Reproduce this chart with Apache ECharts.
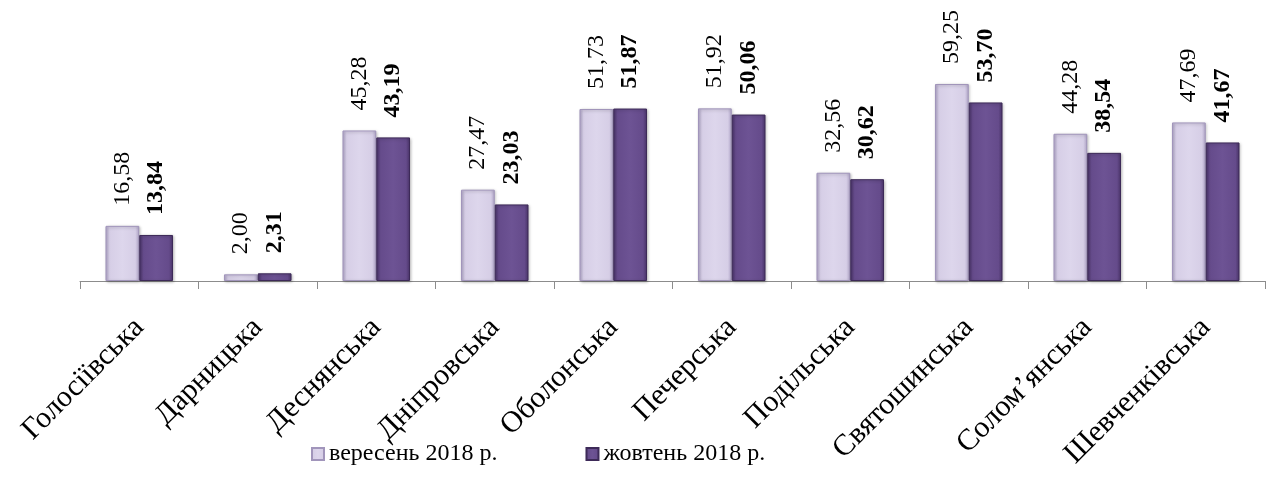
<!DOCTYPE html>
<html>
<head>
<meta charset="utf-8">
<script src="https://cdn.jsdelivr.net/npm/echarts@6/dist/echarts.min.js"></script>
<style>
html,body{margin:0;padding:0;background:#fff;}
#c{width:1276px;height:495px;}
</style>
</head>
<body>
<div id="c"></div>
<script>
const categories = ['Голосіївська','Дарницька','Деснянська','Дніпровська','Оболонська','Печерська','Подільська','Святошинська','Солом’янська','Шевченківська'];
const seriesNames = ['вересень 2018 р.','жовтень 2018 р.'];
const september = [16.58, 2.00, 45.28, 27.47, 51.73, 51.92, 32.56, 59.25, 44.28, 47.69];
const october = [13.84, 2.31, 43.19, 23.03, 51.87, 50.06, 30.62, 53.70, 38.54, 41.67];

const FONT = '"Liberation Serif","Times New Roman",serif';
function grad(edge, base, light){
  return {type:'linear',x:0,y:0,x2:1,y2:0,colorStops:[
    {offset:0,color:edge},{offset:0.12,color:base},{offset:0.5,color:light},{offset:0.88,color:base},{offset:1,color:edge}]};
}
const fmt = p => p.value.toFixed(2).replace('.', ',');

const chart = echarts.init(document.getElementById('c'));
chart.setOption({
  animation:false,
  grid:{left:80,right:11,top:81.5,bottom:214,containLabel:false},
  legend:{
    data:seriesNames,
    left:306, top:437,
    itemWidth:12, itemHeight:12, itemGap:88,
    icon:'rect',
    textStyle:{fontFamily:FONT,fontSize:24,color:'#000'}
  },
  xAxis:{
    type:'category', data:categories,
    axisLine:{lineStyle:{color:'#8c8c8c',width:1}},
    axisTick:{show:true,length:8,lineStyle:{color:'#8c8c8c'}},
    axisLabel:{rotate:45,margin:42,fontFamily:FONT,fontSize:30,color:'#000',interval:0}
  },
  yAxis:{type:'value',min:0,max:60,show:false,splitLine:{show:false}},
  series:[
    {
      name:seriesNames[0], type:'bar', data:september,
      barGap:'0%', barCategoryGap:'43%',
      itemStyle:{color:grad('#b3a8cb','#d6cee6','#ddd6ec'),borderColor:'#a195bb',borderWidth:1,
        shadowColor:'rgba(0,0,0,0.25)',shadowBlur:3,shadowOffsetX:1,shadowOffsetY:1},
      label:{show:true,position:'top',rotate:90,align:'left',verticalAlign:'middle',distance:20,
        formatter:fmt,fontFamily:FONT,fontSize:24,color:'#000'}
    },
    {
      name:seriesNames[1], type:'bar', data:october,
      itemStyle:{color:grad('#4a3469','#654b8b','#6d5394'),borderColor:'#3d2a58',borderWidth:1,
        shadowColor:'rgba(0,0,0,0.25)',shadowBlur:3,shadowOffsetX:1,shadowOffsetY:1},
      label:{show:true,position:'top',rotate:90,align:'left',verticalAlign:'middle',distance:20,
        formatter:fmt,fontFamily:FONT,fontSize:24,fontWeight:'bold',color:'#000'}
    }
  ]
});
</script>
</body>
</html>
